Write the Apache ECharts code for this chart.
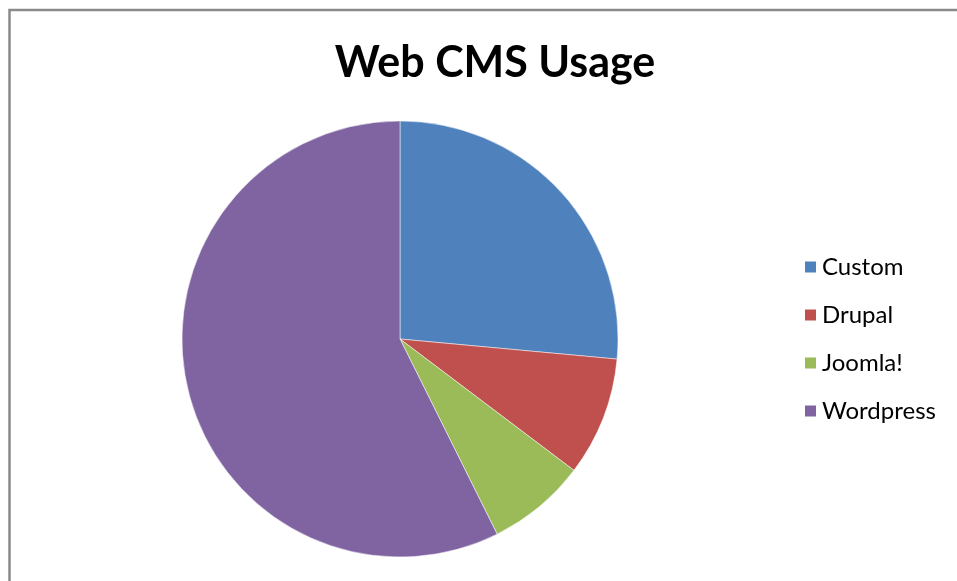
<!DOCTYPE html>
<html>
<head>
<meta charset="utf-8">
<script src="https://cdn.jsdelivr.net/npm/echarts@6/dist/echarts.min.js"></script>
<style>
html,body{margin:0;padding:0;background:#fff;}
#chart{width:957px;height:581px;}
</style>
</head>
<body>
<div id="chart"></div>
<script>
const categories = ['Custom', 'Drupal', 'Joomla!', 'Wordpress'];
const values = [18, 6, 5, 39];
const colors = ['#4F81BD', '#C0504D', '#9BBB59', '#8064A2'];
const titleText = 'Web CMS Usage';

const chart = echarts.init(document.getElementById('chart'));
chart.setOption({
  animation: false,
  backgroundColor: '#fff',
  color: colors,
  graphic: [{
    type: 'rect',
    shape: { x: 9.5, y: 10, width: 1000, height: 600 },
    style: { fill: 'none', stroke: '#8a8a8a', lineWidth: 2.5 },
    silent: true
  }],
  title: {
    text: titleText,
    left: 490,
    top: 37,
    textAlign: 'center',
    textStyle: { fontFamily: 'Lato', fontWeight: 'bold', fontSize: 43, color: '#000' }
  },
  legend: {
    orient: 'vertical',
    left: 798,
    top: 250,
    itemWidth: 13,
    itemHeight: 13,
    itemGap: 24,
    icon: 'rect',
    textStyle: { fontFamily: 'Lato', fontSize: 24, color: '#000', padding: [0, 0, 0, 0] },
    data: categories
  },
  series: [{
    type: 'pie',
    center: [400, 339],
    radius: [0, 218],
    startAngle: 90,
    clockwise: true,
    label: { show: false },
    labelLine: { show: false },
    itemStyle: { borderColor: '#fff', borderWidth: 0.5 },
    emphasis: { disabled: true },
    data: categories.map((c, i) => ({ name: c, value: values[i] }))
  }]
});
</script>
</body>
</html>
